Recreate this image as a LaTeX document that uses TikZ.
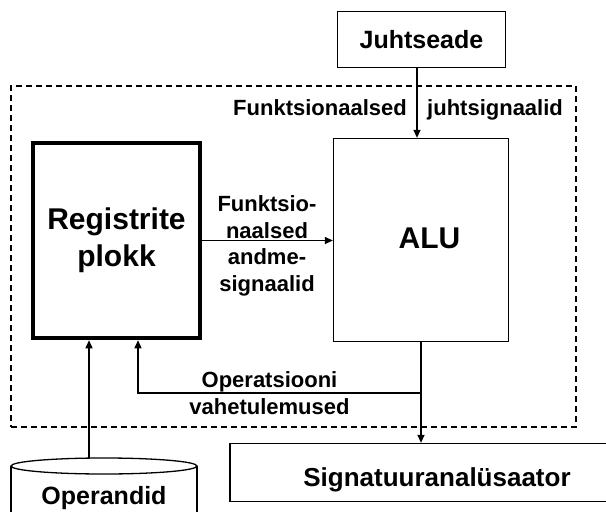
\documentclass[tikz,border=0pt]{standalone}
\usepackage{fontspec}
\setmainfont{Liberation Sans}
\usetikzlibrary{arrows.meta}
\begin{document}
\begin{tikzpicture}[x=1pt,y=-1pt,
  box/.style={draw, line width=1.3pt, inner sep=0pt},
  arr/.style={line width=1.3pt, -{Triangle[length=8pt,width=7pt]}},
  wire/.style={line width=1.3pt},
  big/.style={font=\fontsize{30}{37}\selectfont\bfseries},
  mid/.style={font=\fontsize{25}{30}\selectfont\bfseries},
  small/.style={font=\fontsize{22}{26.7}\selectfont\bfseries, inner sep=0pt},
  ]
\useasboundingbox (0,0) rectangle (606,512);

% boundary of the processor core
\node[draw, dash pattern=on 6pt off 4pt, line width=1.2pt, inner sep=0pt,
      minimum width=565pt, minimum height=341pt] (core) at (293.5,256.5) {};

% control unit
\node[box, mid, minimum width=168pt, minimum height=56pt] (juht) at (421.5,39.5) {Juhtseade};

% ALU
\node[box, minimum width=175pt, minimum height=203pt] (alu) at (421,240) {};
\node[big, anchor=base, inner sep=0pt] (alut) at (429.5,248) {ALU};

% register file
\node[draw, line width=4.5pt, inner sep=0pt, big, align=center,
      minimum width=167pt, minimum height=195pt] (reg) at (116.5,240.5) {Registrite\\plokk};

% signature analyser
\node[box, minimum width=414pt, minimum height=58pt] (sig) at (437,472.5) {};
\node[font=\fontsize{26}{31}\selectfont\bfseries, anchor=base, inner sep=0pt]
      (sigt) at (437,486) {Signatuuranalüsaator};

% operand store (cylinder)
\draw[wire] (11,466) -- (11,520) (197,466) -- (197,520);
\draw[wire] (104,466) ellipse [x radius=93pt, y radius=8pt];
\node[mid, anchor=base, inner sep=0pt] (opd) at (104,504) {Operandid};
\coordinate (opdtop) at (89,458);

% connections
\draw[arr] ([xshift=-4.5pt]juht.south) -- ([xshift=-4.5pt]juht.south |- alu.north);
\draw[arr] (reg.east) -- (reg.east -| alu.west);
\draw[arr] (alu.south) -- (alu.south |- sig.north);
\coordinate (fb) at (138,393);
\draw[arr] (alu.south |- fb) -- (fb) -- (fb |- reg.south);
\draw[arr] (opdtop) -- (opdtop |- reg.south);

% signal labels
\node[small, anchor=base east] (fj1) at (407,115) {Funktsionaalsed};
\node[small, anchor=base west] (fj2) at (427,115) {juhtsignaalid};
\node[small, align=center] (fa) at (267,246) {Funktsio-\\naalsed\\andme-\\signaalid};
\node[small, align=center] (ov) at (269.5,393) {Operatsiooni\\vahetulemused};
\end{tikzpicture}
\end{document}
